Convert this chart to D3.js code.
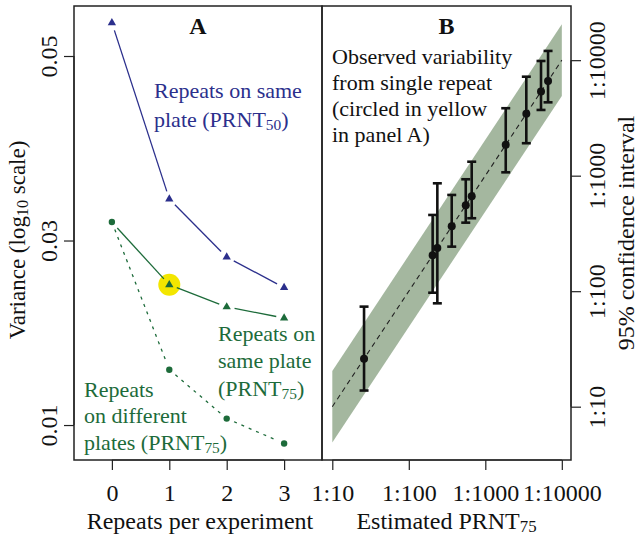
<!DOCTYPE html>
<html><head><meta charset="utf-8">
<script src="https://cdn.jsdelivr.net/npm/d3@7"></script>
<style>body{margin:0;background:#fff} text{font-family:"Liberation Serif","Times New Roman",serif;}</style>
</head><body><svg id="c" width="642" height="541" font-family="Liberation Serif, serif"></svg>
<script>
// ---- data ----
const repeats = [0, 1, 2, 3];
const samePlate50 = [0.0536, 0.0345, 0.0282, 0.0249];
const samePlate75 = [0.0320, 0.0252, 0.0228, 0.0216];
const diffPlate75 = [0.0320, 0.0160, 0.0107, 0.0080];
const varTicks = [0.01, 0.03, 0.05];
const varTickLabels = ["0.01", "0.03", "0.05"];
const highlightRepeat = 1;
const highlightValue = 0.0252;
const estPRNT = [26, 205, 236, 364, 555, 664, 1849, 3436, 5346, 6607];
const ciLow  = [13.8, 97, 78.5, 243, 392, 428, 1069, 1910, 3707, 4315];
const ciHigh = [73.5, 457, 859, 681, 931, 1321, 3837, 7194, 9840, 12023];
const titerTicks = [10, 100, 1000, 10000];
const titerLabels = ["1:10", "1:100", "1:1000", "1:10000"];
const bandRange = [10, 10000];
const bandHalfLog = 0.31;

const BLUE = "#2b2f8c", GREEN = "#1d6b3a", YELLOW = "#f3e600", BAND = "#a4b79f";

const svg = d3.select("#c");
const A = {l: 74, r: 322, t: 6, b: 460};
const B = {l: 322, r: 571, t: 6, b: 460};

const xA = d3.scaleLinear().domain([-0.66, 3.66]).range([A.l, A.r]);
const yA = d3.scaleLinear().domain([0.00621, 0.05542]).range([A.b, A.t]);
const xB = d3.scaleLog().domain([7.336, 13183]).range([B.l, B.r]);
const yB = d3.scaleLog().domain([3.455, 29444]).range([B.b, B.t]);

// ---------- Panel A ----------
svg.append("circle").attr("cx", xA(highlightRepeat)).attr("cy", yA(highlightValue))
  .attr("r", 11).attr("fill", YELLOW);

function gappedLine(vals, color, dash, gap) {
  const pts = repeats.map((r, i) => [xA(r), yA(vals[i])]);
  for (let i = 0; i < pts.length - 1; i++) {
    const [x1, y1] = pts[i], [x2, y2] = pts[i + 1];
    const d = Math.hypot(x2 - x1, y2 - y1);
    if (d < 2 * gap) continue;
    const ux = (x2 - x1) / d, uy = (y2 - y1) / d;
    svg.append("line")
      .attr("x1", x1 + ux * gap).attr("y1", y1 + uy * gap)
      .attr("x2", x2 - ux * gap).attr("y2", y2 - uy * gap)
      .attr("stroke", color).attr("stroke-width", 1.3)
      .attr("stroke-dasharray", dash || null);
  }
}
gappedLine(samePlate50, BLUE, null, 8);
gappedLine(samePlate75, GREEN, null, 8);
gappedLine(diffPlate75, GREEN, "3,5", 8);

const tri = d3.symbol().type(d3.symbolTriangle).size(30);
function triangles(vals, color, start) {
  svg.append("g").selectAll("path").data(vals.slice(start)).join("path")
    .attr("d", tri)
    .attr("transform", (v, i) => `translate(${xA(repeats[i + start])},${yA(v)})`)
    .attr("fill", color);
}
triangles(samePlate50, BLUE, 0);
triangles(samePlate75, GREEN, 1);
svg.append("g").selectAll("circle").data(diffPlate75).join("circle")
  .attr("cx", (v, i) => xA(repeats[i])).attr("cy", v => yA(v)).attr("r", 3.2).attr("fill", GREEN);

svg.append("rect").attr("x", A.l).attr("y", A.t).attr("width", A.r - A.l).attr("height", A.b - A.t)
  .attr("fill", "none").attr("stroke", "#222").attr("stroke-width", 1.5);

const axA = svg.append("g").attr("transform", `translate(0,${A.b})`)
  .call(d3.axisBottom(xA).tickValues(repeats).tickSize(10).tickPadding(8).tickFormat(d3.format("d")));
axA.attr("font-family", null);
axA.select(".domain").attr("d", `M${xA(0)},0H${xA(3)}`).attr("stroke", "#222").attr("stroke-width", 1.2);
axA.selectAll("line").attr("stroke", "#222").attr("stroke-width", 1.2);
axA.selectAll("text").attr("font-size", 24).attr("fill", "#111").attr("dy", "0.95em");

const ayA = svg.append("g").attr("transform", `translate(${A.l},0)`)
  .call(d3.axisLeft(yA).tickValues(varTicks).tickSize(10).tickFormat((d, i) => varTickLabels[i]));
ayA.attr("font-family", null);
ayA.select(".domain").attr("d", `M0,${yA(0.01)}V${yA(0.05)}`).attr("stroke", "#222").attr("stroke-width", 1.2);
ayA.selectAll("line").attr("stroke", "#222").attr("stroke-width", 1.2);
ayA.selectAll("text").attr("font-size", 24).attr("fill", "#111")
  .attr("x", null).attr("dy", null)
  .attr("text-anchor", "middle")
  .attr("transform", "translate(-17,0) rotate(-90)");

// ---------- Panel B ----------
const bandPts = bandRange.map(v => [v, v * Math.pow(10, bandHalfLog), v / Math.pow(10, bandHalfLog)]);
svg.append("path").datum(bandPts)
  .attr("d", d3.area().x(d => xB(d[0])).y0(d => yB(d[2])).y1(d => yB(d[1])))
  .attr("fill", BAND);
svg.append("path").datum(bandRange)
  .attr("d", d3.line().x(d => xB(d)).y(d => yB(d)))
  .attr("stroke", "#222").attr("stroke-width", 1.1).attr("stroke-dasharray", "5,4").attr("fill", "none");

const eb = svg.append("g");
estPRNT.forEach((e, i) => {
  const x = xB(e);
  eb.append("line").attr("x1", x).attr("x2", x).attr("y1", yB(ciLow[i])).attr("y2", yB(ciHigh[i]))
    .attr("stroke", "#111").attr("stroke-width", 2.6);
  [ciLow[i], ciHigh[i]].forEach(c => eb.append("line").attr("x1", x - 4.5).attr("x2", x + 4.5)
    .attr("y1", yB(c)).attr("y2", yB(c)).attr("stroke", "#111").attr("stroke-width", 2.6));
  eb.append("circle").attr("cx", x).attr("cy", yB(e)).attr("r", 4).attr("fill", "#111");
});

svg.append("rect").attr("x", B.l).attr("y", B.t).attr("width", B.r - B.l).attr("height", B.b - B.t)
  .attr("fill", "none").attr("stroke", "#222").attr("stroke-width", 1.5);

const axB = svg.append("g").attr("transform", `translate(0,${B.b})`)
  .call(d3.axisBottom(xB).tickValues(titerTicks).tickSize(10).tickPadding(8).tickFormat((d, i) => titerLabels[i]));
axB.attr("font-family", null);
axB.select(".domain").attr("d", `M${xB(10)},0H${xB(10000)}`).attr("stroke", "#222").attr("stroke-width", 1.2);
axB.selectAll("line").attr("stroke", "#222").attr("stroke-width", 1.2);
axB.selectAll("text").attr("font-size", 24).attr("fill", "#111").attr("dy", "0.95em");

const ayB = svg.append("g").attr("transform", `translate(${B.r},0)`)
  .call(d3.axisRight(yB).tickValues(titerTicks).tickSize(10).tickFormat((d, i) => titerLabels[i]));
ayB.attr("font-family", null);
ayB.select(".domain").attr("d", `M0,${yB(10)}V${yB(10000)}`).attr("stroke", "#222").attr("stroke-width", 1.2);
ayB.selectAll("line").attr("stroke", "#222").attr("stroke-width", 1.2);
ayB.selectAll("text").attr("font-size", 24).attr("fill", "#111")
  .attr("x", null).attr("dy", null)
  .attr("text-anchor", "middle")
  .attr("transform", "translate(34,0) rotate(-90)");

// ---------- Text ----------
function txt(x, y, parts, opts = {}) {
  const size = opts.size || 22;
  const t = svg.append("text").attr("x", x).attr("y", y)
    .attr("font-size", size).attr("fill", opts.color || "#111")
    .attr("text-anchor", opts.anchor || "start");
  if (opts.bold) t.attr("font-weight", "bold");
  if (opts.transform) t.attr("transform", opts.transform);
  let lowered = false;
  parts.forEach(p => {
    if (typeof p === "string") {
      const s = t.append("tspan").text(p);
      if (lowered) { s.attr("dy", -3); lowered = false; }
    } else {
      t.append("tspan").text(p.sub).attr("font-size", size * 0.7).attr("dy", 3);
      lowered = true;
    }
  });
  return t;
}

txt((A.l + A.r) / 2, 34, ["A"], {size: 24, bold: true, anchor: "middle"});
txt((B.l + B.r) / 2, 34, ["B"], {size: 24, bold: true, anchor: "middle"});

txt(154, 98, ["Repeats on same"], {color: BLUE});
txt(154, 127, ["plate (PRNT", {sub: "50"}, ")"], {color: BLUE});

txt(218, 341, ["Repeats on"], {color: GREEN});
txt(218, 368, ["same plate"], {color: GREEN});
txt(218, 396, ["(PRNT", {sub: "75"}, ")"], {color: GREEN});

txt(84, 397, ["Repeats"], {color: GREEN});
txt(84, 423, ["on different"], {color: GREEN});
txt(84, 450, ["plates (PRNT", {sub: "75"}, ")"], {color: GREEN});

txt(332, 64, ["Observed variability"]);
txt(332, 90, ["from single repeat"]);
txt(332, 116, ["(circled in yellow"]);
txt(332, 142, ["in panel A)"]);

txt((A.l + A.r) / 2 + 2, 529, ["Repeats per experiment"], {size: 24, anchor: "middle"});
txt((B.l + B.r) / 2, 529, ["Estimated PRNT", {sub: "75"}], {size: 24, anchor: "middle"});

txt(0, 0, ["Variance (log", {sub: "10"}, " scale)"], {size: 23, anchor: "middle", transform: `translate(25,240) rotate(-90)`});
txt(0, 0, ["95% confidence interval"], {size: 24, anchor: "middle", transform: `translate(634,${(B.t + B.b) / 2}) rotate(-90)`});
</script>
</body></html>
